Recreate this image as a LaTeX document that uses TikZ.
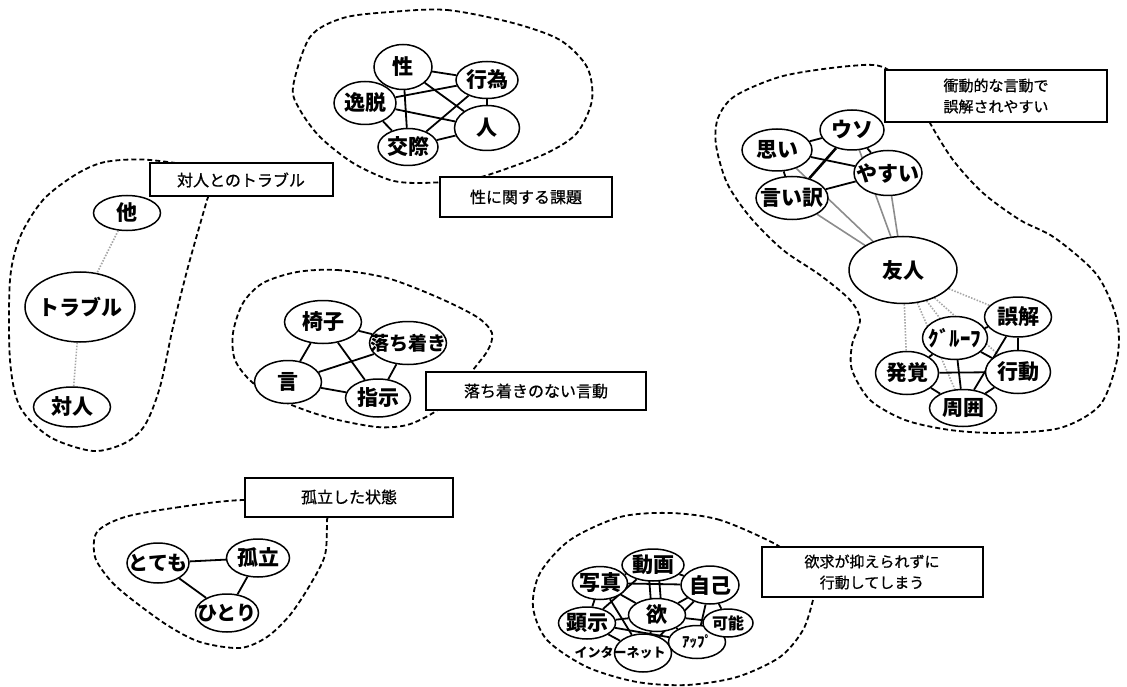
\documentclass[tikz,border=0pt]{standalone}
\usepackage{fontspec}
\newfontfamily\jp{Noto Sans CJK JP}
\newfontfamily\jpm[FakeBold=0.8]{Noto Sans CJK JP}
\usetikzlibrary{shapes.geometric,backgrounds}
\tikzstyle{word} = [ellipse, draw, line width=1.5pt, fill=white, inner sep=0pt,
  font=\jp\bfseries\fontsize{21}{21}\selectfont]
\tikzstyle{topic} = [rectangle, draw, line width=2pt, fill=white, align=center,
  inner sep=0pt, font=\jpm\fontsize{16}{21}\selectfont]
\tikzstyle{link} = [line width=1.8pt]
\tikzstyle{grey link} = [line width=1.6pt, black!45]
\tikzstyle{dot link} = [line width=1.6pt, black!35, dash pattern=on 1.5pt off 1.5pt]
\tikzstyle{cluster} = [line width=1.8pt, dash pattern=on 5pt off 3pt]
\newcommand{\kw}[1]{\makebox[0pt]{#1}}

\begin{document}
\begin{tikzpicture}[x=1pt, y=-1pt]
  \useasboundingbox (0,0) rectangle (1127,687);

  % sex
  \node (sei) [word, minimum width=58, minimum height=45] at (403,67) {\kw{性}};
  \node (koui) [word, minimum width=62, minimum height=37] at (487,80) {\kw{行為}};
  \node (itsudatsu) [word, minimum width=62, minimum height=43] at (365,103) {\kw{逸脱}};
  \node (hito) [word, minimum width=65, minimum height=45] at (487,128) {\kw{人}};
  \node (kousai) [word, minimum width=60, minimum height=37] at (408,147) {\kw{交際}};

  % trouble
  \node (ta) [word, minimum width=67, minimum height=35] at (127,213) {\kw{他}};
  \node (trouble) [word, minimum width=110, minimum height=70] at (80,307) {\kw{トラブル}};
  \node (taijin) [word, minimum width=77, minimum height=40] at (72,407) {\kw{対人}};

  % restless
  \node (isu) [word, minimum width=77, minimum height=43] at (323,322) {\kw{椅子}};
  \node (ochitsuki) [word, minimum width=77, minimum height=43,
    font=\jp\bfseries\fontsize{19}{19}\selectfont] at (408,343) {\kw{落ち着き}};
  \node (gen) [word, minimum width=67, minimum height=43] at (288,382) {\kw{言}};
  \node (shiji) [word, minimum width=65, minimum height=38] at (378,398) {\kw{指示}};

  % friends
  \node (omoi) [word, minimum width=70, minimum height=42] at (777,150) {\kw{思い}};
  \node (uso) [word, minimum width=64, minimum height=40] at (852,130) {\kw{ウソ}};
  \node (yasui) [word, minimum width=68, minimum height=45] at (888,173) {\kw{やすい}};
  \node (iiwake) [word, minimum width=72, minimum height=43] at (792,198) {\kw{言い訳}};
  \node (yujin) [word, minimum width=108, minimum height=67] at (903,270) {\kw{友人}};
  \node (gokai) [word, minimum width=67, minimum height=40] at (1018,317) {\kw{誤解}};
  \node (group) [word, minimum width=65, minimum height=43] at (955,338) {\kw{ｸﾞﾙｰﾌ}};
  \node (hakkaku) [word, minimum width=63, minimum height=43] at (907,373) {\kw{発覚}};
  \node (koudou) [word, minimum width=65, minimum height=43] at (1018,372) {\kw{行動}};
  \node (shui) [word, minimum width=67, minimum height=37] at (963,408) {\kw{周囲}};

  % isolation
  \node (totemo) [word, minimum width=62, minimum height=40,
    font=\jp\bfseries\fontsize{20}{20}\selectfont] at (158,563) {\kw{とても}};
  \node (koritsu) [word, minimum width=63, minimum height=38] at (258,558) {\kw{孤立}};
  \node (hitori) [word, minimum width=63, minimum height=38,
    font=\jp\bfseries\fontsize{20}{20}\selectfont] at (227,613) {\kw{ひとり}};

  % desire
  \node (net) [word, minimum width=57, minimum height=38,
    font=\jp\bfseries\fontsize{13}{13}\selectfont] at (643,653) {\kw{\hspace*{-46pt}インターネット}};
  \node (appu) [word, minimum width=57, minimum height=33,
    font=\jp\bfseries\fontsize{15}{15}\selectfont] at (697,642) {\kw{ｱｯﾌﾟ}};
  \node (kanou) [word, minimum width=50, minimum height=28,
    font=\jp\bfseries\fontsize{16}{16}\selectfont] at (728,623) {\kw{可能}};
  \node (kenji) [word, minimum width=57, minimum height=32] at (587,623) {\kw{顕示}};
  \node (yoku) [word, minimum width=57, minimum height=33] at (657,615) {\kw{欲}};
  \node (shashin) [word, minimum width=55, minimum height=33] at (600,583) {\kw{写真}};
  \node (jiko) [word, minimum width=58, minimum height=38] at (710,585) {\kw{自己}};
  \node (douga) [word, minimum width=62, minimum height=32] at (653,565) {\kw{動画}};

  \begin{scope}[on background layer]
    \draw[cluster] plot[smooth cycle] coordinates {(150,160) (105,162) (75,175)
      (43,200) (20,237) (10,280) (10,360) (20,407) (50,437) (93,451) (125,443)
      (145,425) (160,387) (173,327) (188,267) (207,200) (215,172)};
    \draw[cluster] plot[smooth cycle] coordinates {(390,12) (447,10) (513,23)
      (560,40) (587,67) (592,100) (577,133) (547,153) (497,172) (467,180)
      (420,183) (390,180) (353,163) (320,137) (300,110) (293,87) (310,37) (343,18)};
    \draw[cluster] plot[smooth cycle] coordinates {(297,272) (337,270) (387,278)
      (437,297) (477,317) (492,333) (488,350) (473,370) (453,397) (433,413)
      (407,425) (377,427) (330,418) (287,403) (253,383) (235,360) (233,333)
      (243,303) (263,283)};
    \draw[cluster] plot[smooth cycle] coordinates {(885,68) (850,66) (783,76)
      (735,96) (718,118) (716,145) (727,183) (750,217) (783,250) (820,275)
      (850,300) (860,320) (852,345) (852,370) (870,400) (905,420) (950,430)
      (1000,433) (1060,428) (1100,405) (1117,360) (1117,320) (1097,275)
      (1055,238) (1020,220) (983,193) (953,160) (930,123) (920,100)};
    \draw[cluster] plot[smooth cycle] coordinates {(245,500) (180,507) (125,517)
      (97,532) (95,557) (110,580) (130,598) (167,625) (200,642) (240,648)
      (267,637) (290,615) (310,585) (325,555) (327,520) (327,505)};
    \draw[cluster] plot[smooth cycle] coordinates {(777,545) (720,520) (670,513)
      (620,517) (570,540) (540,573) (533,607) (547,640) (587,667) (637,682)
      (687,685) (737,677) (780,657) (803,630) (813,600) (815,585) (790,560)};

    % sex
    \draw[link] (sei) -- (koui);
    \draw[link] (sei) -- (kousai);
    \draw[link] (sei) -- (hito);
    \draw[link] (itsudatsu) -- (koui);
    \draw[link] (itsudatsu) -- (hito);
    \draw[link] (itsudatsu) -- (kousai);
    \draw[link] (kousai) -- (koui);
    \draw[link] (kousai) -- (hito);
    \draw[link] (koui) -- (hito);

    % trouble
    \draw[dot link] (ta) -- (trouble);
    \draw[dot link] (trouble) -- (taijin);

    % restless
    \draw[link] (isu) -- (ochitsuki);
    \draw[link] (isu) -- (gen);
    \draw[link] (isu) -- (shiji);
    \draw[link] (gen) -- (ochitsuki);
    \draw[link] (gen) -- (shiji);
    \draw[link] (ochitsuki) -- (shiji);

    % friends
    \draw[grey link] (yujin) -- (omoi);
    \draw[grey link] (yujin) -- (iiwake);
    \draw[grey link] (yujin) -- (uso);
    \draw[grey link] (yujin) -- (yasui);
    \draw[link] (omoi) -- (uso);
    \draw[link] (omoi) -- (yasui);
    \draw[link] (omoi) -- (iiwake);
    \draw[link, line width=2.6pt] (uso) -- (iiwake);
    \draw[link] (uso) -- (yasui);
    \draw[link] (iiwake) -- (yasui);
    \draw[dot link] (yujin) -- (hakkaku);
    \draw[dot link] (yujin) -- (group);
    \draw[dot link] (yujin) -- (shui);
    \draw[dot link] (yujin) -- (koudou);
    \draw[dot link] (yujin) -- (gokai);
    \draw[link] (group) -- (gokai);
    \draw[link] (group) -- (koudou);
    \draw[link] (group) -- (shui);
    \draw[link] (hakkaku) -- (group);
    \draw[link] (hakkaku) -- (koudou);
    \draw[link] (hakkaku) -- (shui);
    \draw[link] (shui) -- (koudou);
    \draw[link] (gokai) -- (koudou);
    \draw[link] (gokai) -- (shui);

    % isolation
    \draw[link] (totemo) -- (koritsu);
    \draw[link] (totemo) -- (hitori);
    \draw[link] (koritsu) -- (hitori);

    % desire
    \draw[link] ([xshift=-5pt]douga.center) -- ([xshift=-5pt]yoku.center);
    \draw[link] ([xshift=5pt]douga.center) -- ([xshift=5pt]yoku.center);
    \draw[link] (yoku) -- (shashin);
    \draw[link] (yoku) -- (jiko);
    \draw[link] (yoku) -- (kenji);
    \draw[link] (yoku) -- (kanou);
    \draw[link] (yoku) -- (appu);
    \draw[link] (yoku) -- (net);
    \draw[link] (shashin) -- (douga);
    \draw[link] (douga) -- (jiko);
    \draw[link] (shashin) -- (kenji);
    \draw[link] (kenji) -- (net);
    \draw[link] (net) -- (appu);
    \draw[link] (appu) -- (kanou);
    \draw[link] (kanou) -- (jiko);
    \draw[link] (jiko) -- (appu);
    \draw[link] (shashin) -- (net);
    \draw[link] (kenji) -- (douga);
    \draw[link] (jiko) -- (net);
    \draw[link] (shashin) -- (jiko);
    \draw[link] (kenji) -- (appu);
  \end{scope}

  \node (tTrouble) [topic, minimum width=183, minimum height=33] at (241,180) {対人とのトラブル};
  \node (tSei) [topic, minimum width=172, minimum height=40] at (526,197) {性に関する課題};
  \node (tRestless) [topic, minimum width=220, minimum height=38] at (536,391) {落ち着きのない言動};
  \node (tImpulse) [topic, minimum width=222, minimum height=52,
    font=\jpm\fontsize{15}{21}\selectfont] at (996,96) {衝動的な言動で\\誤解されやすい};
  \node (tAlone) [topic, minimum width=208, minimum height=39] at (349,497) {孤立した状態};
  \node (tDesire) [topic, minimum width=221, minimum height=50,
    font=\jpm\fontsize{15}{21}\selectfont] at (872,572) {欲求が抑えられずに\\行動してしまう};
\end{tikzpicture}
\end{document}
